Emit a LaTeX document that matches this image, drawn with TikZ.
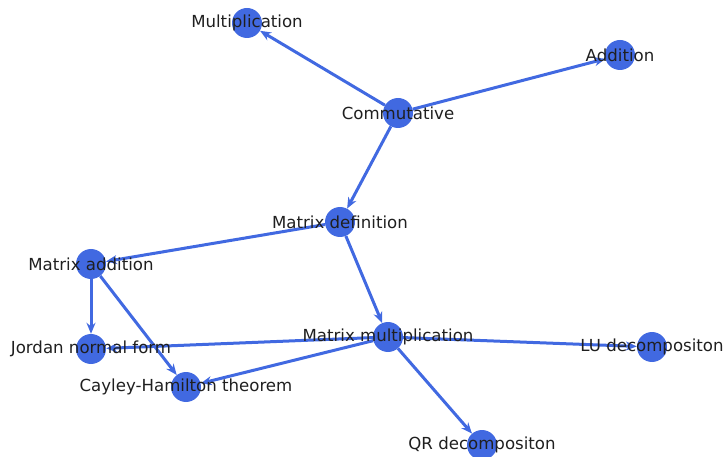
\documentclass[tikz,border=0pt]{standalone}
\usepackage{fontspec}
\setmainfont{DejaVu Sans}
\usetikzlibrary{arrows.meta}
\definecolor{royal}{RGB}{65,105,225}

\begin{document}
\begin{tikzpicture}[x=1pt, y=-1pt, >={Stealth[length=11pt, width=9pt]},
	vertex/.style={circle, fill=royal, minimum size=30pt, inner sep=0pt},
	vtext/.style={font=\fontsize{16.6}{18}\selectfont, text=black!88, inner sep=0pt}]
	\useasboundingbox (0,0) rectangle (726,457);
	\node[vertex] (mul) at (247,23) {};
	\node[vertex] (add) at (620,55) {};
	\node[vertex] (com) at (398,113) {};
	\node[vertex] (mdef) at (340,222) {};
	\node[vertex] (madd) at (91,264) {};
	\node[vertex] (jnf) at (91,349) {};
	\node[vertex] (ch) at (186,387) {};
	\node[vertex] (mmul) at (388,337) {};
	\node[vertex] (lu) at (652,347) {};
	\node[vertex] (qr) at (482,445) {};
	
	\path[->, draw=royal, line width=3pt]
	(com) edge (mul)
	(com) edge (add)
	(com) edge (mdef)
	(mdef) edge (madd)
	(mdef) edge (mmul)
	(madd) edge (jnf)
	(madd) edge (ch)
	(mmul) edge (jnf)
	(mmul) edge (ch)
	(mmul) edge (lu)
	(mmul) edge (qr);
	
	\node[vtext] (mul-t) at (mul) {Multiplication};
	\node[vtext] (add-t) at (add) {Addition};
	\node[vtext] (com-t) at (com) {Commutative};
	\node[vtext] (mdef-t) at (mdef) {Matrix definition};
	\node[vtext] (madd-t) at (madd) {Matrix addition};
	\node[vtext] (jnf-t) at (jnf) {Jordan normal form};
	\node[vtext] (ch-t) at (ch) {Cayley-Hamilton theorem};
	\node[vtext] (mmul-t) at (mmul) {Matrix multiplication};
	\node[vtext] (lu-t) at (lu) {LU decompositon};
	\node[vtext] (qr-t) at (qr) {QR decompositon};
\end{tikzpicture}
\end{document}
